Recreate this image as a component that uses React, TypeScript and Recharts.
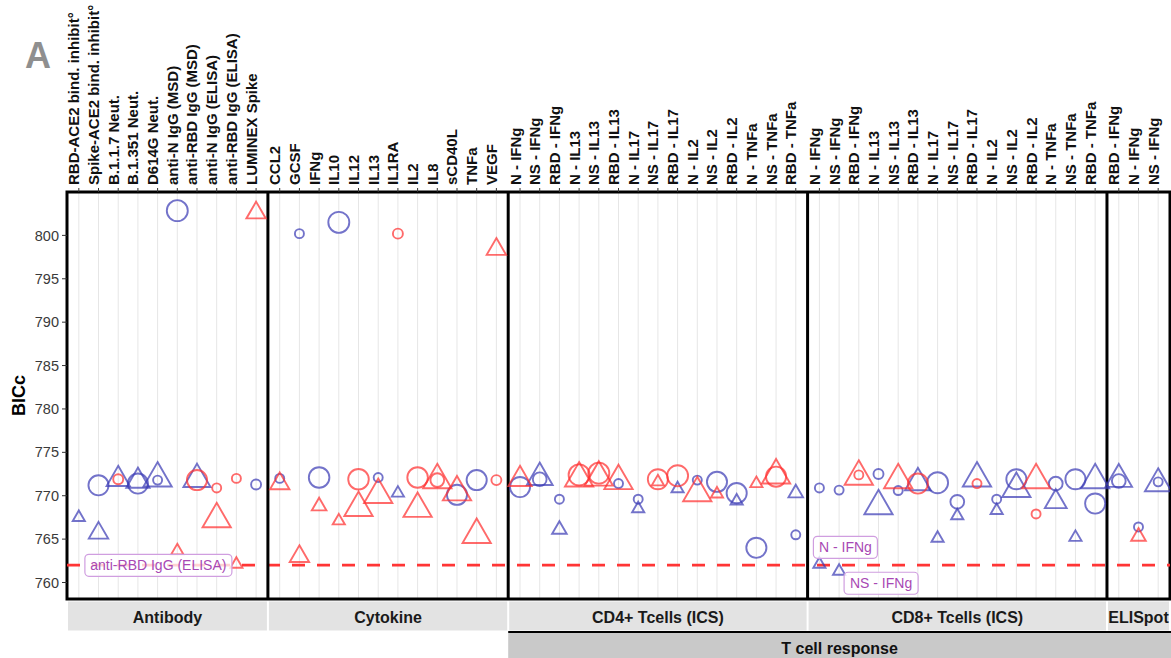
import React from 'react';
import {
  ScatterChart,
  Scatter,
  XAxis,
  YAxis,
  ZAxis,
  CartesianGrid,
  ReferenceLine,
  ReferenceArea,
} from 'recharts';

const FONT = "'Liberation Sans', Arial, Helvetica, sans-serif";

// ---------- categories ----------
const antibodyCats = [
  'RBD-ACE2 bind. inhibit°',
  'Spike-ACE2 bind. inhibit°',
  'B.1.1.7 Neut.',
  'B.1.351 Neut.',
  'D614G Neut.',
  'anti-N IgG (MSD)',
  'anti-RBD IgG (MSD)',
  'anti-N IgG (ELISA)',
  'anti-RBD IgG (ELISA)',
  'LUMINEX Spike',
];
const cytokineCats = ['CCL2', 'GCSF', 'IFNg', 'IL10', 'IL12', 'IL13', 'IL1RA', 'IL2', 'IL8', 'sCD40L', 'TNFa', 'VEGF'];
const icsCats = [
  'N - IFNg', 'NS - IFNg', 'RBD - IFNg',
  'N - IL13', 'NS - IL13', 'RBD - IL13',
  'N - IL17', 'NS - IL17', 'RBD - IL17',
  'N - IL2', 'NS - IL2', 'RBD - IL2',
  'N - TNFa', 'NS - TNFa', 'RBD - TNFa',
];
const elispotCats = ['RBD - IFNg', 'N - IFNg', 'NS - IFNg'];

// ---------- points: [category, set, marker, BICc, weight] ----------
type Pt = [string, string, string, number, number];

const antibodyPoints: Pt[] = [
  ['RBD-ACE2 bind. inhibit°', 'S1', 'triangle', 767.5, 1.0],
  ['Spike-ACE2 bind. inhibit°', 'S1', 'triangle', 765.7, 1.7],
  ['Spike-ACE2 bind. inhibit°', 'S1', 'circle', 771.2, 2.8],
  ['B.1.1.7 Neut.', 'S2', 'circle', 771.9, 1.1],
  ['B.1.1.7 Neut.', 'S1', 'triangle', 771.9, 2.2],
  ['B.1.351 Neut.', 'S1', 'circle', 771.4, 2.8],
  ['B.1.351 Neut.', 'S1', 'triangle', 771.7, 2.2],
  ['D614G Neut.', 'S1', 'triangle', 772.0, 3.0],
  ['D614G Neut.', 'S1', 'circle', 771.8, 1.0],
  ['anti-N IgG (MSD)', 'S1', 'circle', 802.85, 3.0],
  ['anti-N IgG (MSD)', 'S2', 'triangle', 763.65, 1.0],
  ['anti-RBD IgG (MSD)', 'S1', 'triangle', 771.9, 2.8],
  ['anti-RBD IgG (MSD)', 'S2', 'circle', 771.8, 2.8],
  ['anti-N IgG (ELISA)', 'S2', 'circle', 770.9, 1.0],
  ['anti-N IgG (ELISA)', 'S2', 'triangle', 767.3, 3.0],
  ['anti-RBD IgG (ELISA)', 'S2', 'circle', 772.0, 1.0],
  ['anti-RBD IgG (ELISA)', 'S2', 'triangle', 762.1, 1.0],
  ['LUMINEX Spike', 'S1', 'circle', 771.3, 1.1],
  ['LUMINEX Spike', 'S2', 'triangle', 802.6, 1.7],
];

const cytokinePoints: Pt[] = [
  ['CCL2', 'S1', 'circle', 772.0, 1.0],
  ['CCL2', 'S2', 'triangle', 771.4, 1.7],
  ['GCSF', 'S1', 'circle', 800.2, 1.0],
  ['GCSF', 'S2', 'triangle', 763.0, 1.7],
  ['IFNg', 'S1', 'circle', 772.1, 2.9],
  ['IFNg', 'S2', 'triangle', 768.8, 1.2],
  ['IL10', 'S1', 'circle', 801.5, 3.0],
  ['IL10', 'S2', 'triangle', 767.1, 1.0],
  ['IL12', 'S2', 'circle', 771.9, 2.9],
  ['IL12', 'S2', 'triangle', 768.6, 3.0],
  ['IL13', 'S1', 'circle', 772.1, 1.0],
  ['IL13', 'S2', 'triangle', 770.1, 3.0],
  ['IL1RA', 'S2', 'circle', 800.2, 1.1],
  ['IL1RA', 'S1', 'triangle', 770.3, 1.0],
  ['IL2', 'S2', 'circle', 772.1, 2.9],
  ['IL2', 'S2', 'triangle', 768.5, 3.0],
  ['IL8', 'S2', 'triangle', 771.8, 3.0],
  ['IL8', 'S2', 'circle', 771.8, 1.6],
  ['sCD40L', 'S1', 'circle', 770.1, 2.8],
  ['sCD40L', 'S2', 'triangle', 770.4, 3.0],
  ['TNFa', 'S1', 'circle', 771.8, 2.8],
  ['TNFa', 'S2', 'triangle', 765.5, 3.0],
  ['VEGF', 'S2', 'circle', 771.8, 1.1],
  ['VEGF', 'S2', 'triangle', 798.4, 1.7],
];

const cd4Points: Pt[] = [
  ['N - IFNg', 'S1', 'circle', 771.0, 2.8],
  ['N - IFNg', 'S2', 'triangle', 771.9, 2.2],
  ['NS - IFNg', 'S1', 'triangle', 772.1, 2.6],
  ['NS - IFNg', 'S1', 'circle', 771.9, 1.6],
  ['RBD - IFNg', 'S1', 'circle', 769.6, 1.0],
  ['RBD - IFNg', 'S1', 'triangle', 766.1, 1.2],
  ['N - IL13', 'S2', 'circle', 772.4, 3.0],
  ['N - IL13', 'S2', 'triangle', 772.0, 3.0],
  ['NS - IL13', 'S2', 'circle', 772.6, 3.0],
  ['NS - IL13', 'S2', 'triangle', 772.1, 3.0],
  ['RBD - IL13', 'S2', 'triangle', 771.7, 3.0],
  ['RBD - IL13', 'S1', 'circle', 771.4, 1.0],
  ['N - IL17', 'S1', 'circle', 769.6, 1.0],
  ['N - IL17', 'S1', 'triangle', 768.5, 1.0],
  ['NS - IL17', 'S2', 'circle', 771.9, 2.8],
  ['NS - IL17', 'S2', 'triangle', 771.6, 1.0],
  ['RBD - IL17', 'S2', 'circle', 772.3, 3.0],
  ['RBD - IL17', 'S1', 'triangle', 770.8, 1.0],
  ['N - IL2', 'S2', 'triangle', 770.3, 3.0],
  ['N - IL2', 'S1', 'circle', 771.8, 1.0],
  ['NS - IL2', 'S1', 'circle', 771.6, 2.8],
  ['NS - IL2', 'S2', 'triangle', 770.2, 1.0],
  ['RBD - IL2', 'S1', 'circle', 770.3, 2.8],
  ['RBD - IL2', 'S1', 'triangle', 769.4, 1.0],
  ['N - TNFa', 'S1', 'circle', 764.0, 2.8],
  ['N - TNFa', 'S2', 'triangle', 771.4, 1.0],
  ['NS - TNFa', 'S2', 'triangle', 772.35, 3.0],
  ['NS - TNFa', 'S2', 'circle', 772.2, 2.8],
  ['RBD - TNFa', 'S1', 'triangle', 770.3, 1.2],
  ['RBD - TNFa', 'S1', 'circle', 765.5, 1.0],
];

const cd8Points: Pt[] = [
  ['N - IFNg', 'S1', 'circle', 770.9, 1.0],
  ['N - IFNg', 'S1', 'triangle', 762.1, 1.0],
  ['NS - IFNg', 'S1', 'circle', 770.65, 1.0],
  ['NS - IFNg', 'S1', 'triangle', 761.3, 1.0],
  ['RBD - IFNg', 'S2', 'triangle', 772.2, 3.0],
  ['RBD - IFNg', 'S2', 'circle', 772.4, 1.0],
  ['N - IL13', 'S1', 'circle', 772.5, 1.1],
  ['N - IL13', 'S1', 'triangle', 768.8, 3.0],
  ['NS - IL13', 'S2', 'triangle', 771.8, 3.0],
  ['NS - IL13', 'S1', 'circle', 770.6, 1.0],
  ['RBD - IL13', 'S1', 'triangle', 771.5, 2.6],
  ['RBD - IL13', 'S2', 'circle', 771.4, 2.8],
  ['N - IL17', 'S1', 'circle', 771.5, 3.0],
  ['N - IL17', 'S1', 'triangle', 765.1, 1.0],
  ['NS - IL17', 'S1', 'circle', 769.3, 1.6],
  ['NS - IL17', 'S1', 'triangle', 767.7, 1.0],
  ['RBD - IL17', 'S1', 'triangle', 772.0, 3.0],
  ['RBD - IL17', 'S2', 'circle', 771.4, 1.0],
  ['N - IL2', 'S1', 'circle', 769.6, 1.0],
  ['N - IL2', 'S1', 'triangle', 768.3, 1.0],
  ['NS - IL2', 'S1', 'circle', 771.9, 2.8],
  ['NS - IL2', 'S1', 'triangle', 770.8, 3.0],
  ['RBD - IL2', 'S2', 'triangle', 771.8, 3.0],
  ['RBD - IL2', 'S2', 'circle', 767.9, 1.0],
  ['N - TNFa', 'S1', 'circle', 771.4, 1.6],
  ['N - TNFa', 'S1', 'triangle', 769.3, 2.0],
  ['NS - TNFa', 'S1', 'circle', 771.9, 2.8],
  ['NS - TNFa', 'S1', 'triangle', 765.2, 1.0],
  ['RBD - TNFa', 'S1', 'triangle', 771.8, 3.0],
  ['RBD - TNFa', 'S1', 'circle', 769.1, 2.8],
];

const elispotPoints: Pt[] = [
  ['RBD - IFNg', 'S1', 'triangle', 771.9, 2.7],
  ['RBD - IFNg', 'S1', 'circle', 771.7, 1.6],
  ['N - IFNg', 'S1', 'circle', 766.4, 1.0],
  ['N - IFNg', 'S2', 'triangle', 765.3, 1.2],
  ['NS - IFNg', 'S1', 'triangle', 771.4, 2.7],
  ['NS - IFNg', 'S1', 'circle', 771.6, 1.0],
];

// annotated points: [panel index, category, BICc, label]
const notes: [number, string, number, string][] = [
  [0, 'anti-RBD IgG (ELISA)', 762.1, 'anti-RBD IgG (ELISA)'],
  [3, 'N - IFNg', 762.1, 'N - IFNg'],
  [3, 'NS - IFNg', 761.3, 'NS - IFNg'],
];

const panelNames = ['Antibody', 'Cytokine', 'CD4+ Tcells (ICS)', 'CD8+ Tcells (ICS)', 'ELISpot'];
const panelCats = [antibodyCats, cytokineCats, icsCats, icsCats, elispotCats];
const panelPoints = [antibodyPoints, cytokinePoints, cd4Points, cd8Points, elispotPoints];
const groupName = 'T cell response';
const groupPanels = [2, 3, 4];
const THRESHOLD = 762;
const Y_TICKS = [760, 765, 770, 775, 780, 785, 790, 795, 800];
const Y_DOMAIN: [number, number] = [758.1, 805.0];

// ---------- layout (ggplot-like discrete expansion) ----------
const EXPAND = 0.6;
let cursor = 0;
const layout = panelCats.map((cats) => {
  const start = cursor;
  cursor += cats.length - 1 + 2 * EXPAND;
  return { start, end: cursor };
});
const X_MAX = cursor;
const posOf = (p: number, cat: string) => layout[p].start + EXPAND + panelCats[p].indexOf(cat);

const tickPositions: number[] = [];
const tickLabel = new Map<string, string>();
panelCats.forEach((cats, p) =>
  cats.forEach((c, i) => {
    const v = layout[p].start + EXPAND + i;
    tickPositions.push(v);
    tickLabel.set(v.toFixed(3), c);
  })
);

const rows = panelPoints.flatMap((pts, p) =>
  pts.map(([cat, set, marker, bicc, w]) => ({ x: posOf(p, cat), y: bicc, w, set, marker }))
);
const s1Rows = rows.filter((r) => r.set === 'S1');
const s2Rows = rows.filter((r) => r.set === 'S2');
const noteRows = notes.map(([p, cat, bicc, text]) => ({ x: posOf(p, cat), y: bicc, w: 1, text }));
const boundaries = layout.slice(0, -1).map((l) => l.end);

// ---------- styles ----------
const W = 1171;
const H = 658;
const PLOT_LEFT = 67;
const PLOT_TOP = 192;
const PLOT_BOTTOM = 599;
const PLOT_W = W - PLOT_LEFT - 1;
const SET_COLORS: Record<string, string> = { S1: '#3d3db5', S2: '#ff3030' };
const NOTE_STYLE: Record<string, { dx: number; dy: number; w: number }> = {
  'anti-RBD IgG (ELISA)': { dx: -78, dy: 1, w: 147 },
  'N - IFNg': { dx: 26, dy: -17, w: 64 },
  'NS - IFNg': { dx: 42, dy: 12, w: 74 },
};

const MarkerShape = (props: any) => {
  const { cx, cy, payload } = props;
  if (cx == null || cy == null || !payload) return <g />;
  const area = typeof props.size === 'number' && props.size > 0 ? props.size : 120;
  const r = Math.sqrt(area / Math.PI);
  const color = SET_COLORS[payload.set];
  const common = { fill: 'none', stroke: color, strokeOpacity: 0.72, strokeWidth: 1.9 };
  if (payload.marker === 'triangle') {
    const pts = `${cx},${cy - 1.5551 * r} ${cx + 1.3468 * r},${cy + 0.7776 * r} ${cx - 1.3468 * r},${cy + 0.7776 * r}`;
    return <polygon points={pts} {...common} />;
  }
  return <circle cx={cx} cy={cy} r={r} {...common} />;
};

const NoteShape = (props: any) => {
  const { cx, cy, payload } = props;
  if (cx == null || cy == null || !payload) return <g />;
  const st = NOTE_STYLE[payload.text];
  const mx = cx + st.dx;
  const my = cy + st.dy;
  return (
    <g>
      <rect x={mx - st.w / 2} y={my - 11} width={st.w} height={22} rx={4} fill="#ffffff" fillOpacity={0.78} stroke="#d09ee0" strokeWidth={1.2} />
      <text x={mx} y={my} dy="0.36em" textAnchor="middle" fontSize={14} fill="#a848b4" fontFamily={FONT}>
        {payload.text}
      </text>
    </g>
  );
};

const TopTick = (props: any) => {
  const { x, payload } = props;
  const label = tickLabel.get(Number(payload.value).toFixed(3)) ?? '';
  return (
    <text
      transform={`translate(${x + 0.5},${PLOT_TOP - 7}) rotate(-90)`}
      textAnchor="start"
      fontSize={15}
      fontWeight="bold"
      fill="#111"
      fontFamily={FONT}
    >
      {label}
    </text>
  );
};

export default function App() {
  const unit = PLOT_W / X_MAX;
  const px = (v: number) => PLOT_LEFT + v * unit;
  const gStart = px(layout[groupPanels[0]].start);
  const gEnd = px(layout[groupPanels[groupPanels.length - 1]].end) + 2;
  return (
    <div style={{ position: 'absolute', left: 0, top: 0, width: W, height: H, background: '#fff', fontFamily: FONT, overflow: 'hidden' }}>
      <ScatterChart width={W} height={H} margin={{ top: 0, right: 1, bottom: H - PLOT_BOTTOM, left: 0 }}>
        <CartesianGrid horizontal={false} vertical stroke="#e6e6e6" strokeWidth={1} />
        <XAxis
          type="number"
          dataKey="x"
          orientation="top"
          domain={[0, X_MAX]}
          ticks={tickPositions}
          interval={0}
          height={PLOT_TOP}
          axisLine={false}
          tickLine={{ stroke: '#333', strokeWidth: 1 }}
          tickSize={4}
          tick={<TopTick />}
          allowDataOverflow
        />
        <YAxis
          type="number"
          dataKey="y"
          domain={Y_DOMAIN}
          ticks={Y_TICKS}
          interval={0}
          width={PLOT_LEFT}
          axisLine={false}
          tickLine={{ stroke: '#333', strokeWidth: 1 }}
          tickSize={5}
          tickMargin={3}
          tick={{ fontSize: 14.5, fill: '#3a3a3a', fontFamily: FONT }}
          allowDataOverflow
        />
        <ZAxis type="number" dataKey="w" domain={[1, 3]} range={[64, 346]} />
        <ReferenceLine y={THRESHOLD} stroke="#ff3535" strokeWidth={2.8} strokeDasharray="13 12" />
        <Scatter data={s1Rows} shape={<MarkerShape />} isAnimationActive={false} />
        <Scatter data={s2Rows} shape={<MarkerShape />} isAnimationActive={false} />
        <Scatter data={noteRows} shape={<NoteShape />} isAnimationActive={false} />
        {boundaries.map((b) => (
          <ReferenceLine key={b} x={b} stroke="#000" strokeWidth={3} />
        ))}
        <ReferenceArea x1={0} x2={X_MAX} y1={Y_DOMAIN[0]} y2={Y_DOMAIN[1]} fill="none" fillOpacity={0} stroke="#000" strokeWidth={3} />
      </ScatterChart>
      <svg width={W} height={H} style={{ position: 'absolute', left: 0, top: 0, pointerEvents: 'none' }}>
        <text x={25} y={68} fontSize={36} fontWeight="bold" fill="#8f8f8f" fontFamily={FONT}>A</text>
        <text x={25} y={(PLOT_TOP + PLOT_BOTTOM) / 2} transform={`rotate(-90,25,${(PLOT_TOP + PLOT_BOTTOM) / 2})`} textAnchor="middle" fontSize={18} fontWeight="bold" fill="#000" fontFamily={FONT}>
          BICc
        </text>
        {layout.map((l, p) => {
          const x0 = px(l.start) + 1;
          const x1 = px(l.end) - 1;
          return (
            <g key={p}>
              <rect x={x0} y={601.5} width={x1 - x0} height={29} fill="#e3e3e3" />
              <text x={(x0 + x1) / 2} y={617} dy="0.36em" textAnchor="middle" fontSize={16} fontWeight="bold" fill="#1a1a1a" fontFamily={FONT}>
                {panelNames[p]}
              </text>
            </g>
          );
        })}
        <rect x={gStart} y={633} width={gEnd - gStart} height={H - 633} fill="#c9c9c9" />
        <line x1={gStart} x2={gEnd} y1={632} y2={632} stroke="#000" strokeWidth={2} />
        <text x={(gStart + W) / 2} y={648} dy="0.36em" textAnchor="middle" fontSize={16} fontWeight="bold" fill="#111" fontFamily={FONT}>
          {groupName}
        </text>
      </svg>
    </div>
  );
}
